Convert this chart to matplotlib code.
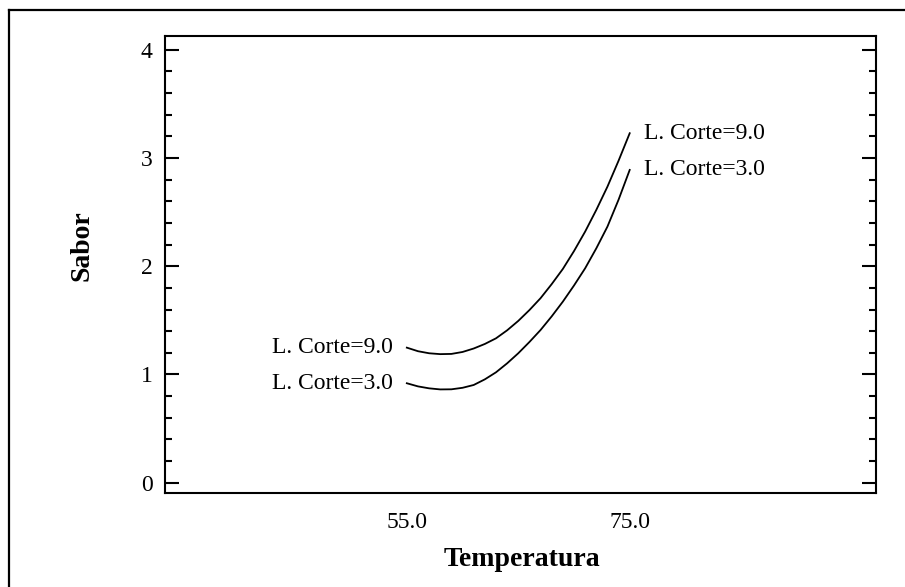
import matplotlib
matplotlib.use("Agg")
import matplotlib.pyplot as plt
from matplotlib.lines import Line2D
from matplotlib.ticker import MultipleLocator, FixedLocator, FormatStrFormatter

plt.rcParams['font.family'] = ['Liberation Serif', 'DejaVu Serif']

# Data
temperatura = [55, 56, 57, 58, 59, 60, 61, 62, 63, 64, 65,
               66, 67, 68, 69, 70, 71, 72, 73, 74, 75]
sabor_corte9 = [1.248, 1.215, 1.196, 1.188, 1.190, 1.208, 1.240, 1.282, 1.334, 1.408, 1.495,
                1.595, 1.705, 1.835, 1.975, 2.140, 2.320, 2.520, 2.735, 2.975, 3.229]
sabor_corte3 = [0.919, 0.890, 0.872, 0.862, 0.863, 0.877, 0.903, 0.955, 1.020, 1.103, 1.196,
                1.300, 1.411, 1.537, 1.673, 1.822, 1.981, 2.165, 2.366, 2.615, 2.890]
label_corte9 = "L. Corte=9.0"
label_corte3 = "L. Corte=3.0"
x_ticks = [55.0, 75.0]
y_ticks = [0, 1, 2, 3, 4]

W, H = 905, 587
fig = plt.figure(figsize=(W / 100, H / 100), dpi=100)
ax = fig.add_axes([165 / W, 1 - 493 / H, (876 - 165) / W, (493 - 35.7) / H])

for ys in (sabor_corte9, sabor_corte3):
    ax.plot(temperatura, ys, color='black', lw=1.3)

ax.set_xlim(33.3, 97.1)
ax.set_ylim(-0.095, 4.13)

# curve labels
for ys, lab in ((sabor_corte9, label_corte9), (sabor_corte3, label_corte3)):
    ax.annotate(lab, xy=(temperatura[0], ys[0]), xytext=(-10, 0), textcoords='offset points',
                ha='right', va='center', fontsize=17)
    ax.annotate(lab, xy=(temperatura[-1], ys[-1]), xytext=(10, 0), textcoords='offset points',
                ha='left', va='center', fontsize=17)

ax.xaxis.set_major_locator(FixedLocator(x_ticks))
ax.xaxis.set_major_formatter(FormatStrFormatter('%.1f'))
ax.yaxis.set_major_locator(FixedLocator(y_ticks))
ax.yaxis.set_minor_locator(MultipleLocator(0.2))

ax.tick_params(axis='x', length=0, pad=14, labelsize=17)
ax.tick_params(axis='y', which='major', direction='in', length=10, width=1.5,
               left=True, right=True, labelsize=17, pad=9)
ax.tick_params(axis='y', which='minor', direction='in', length=5, width=1.5,
               left=True, right=True)

for sp in ax.spines.values():
    sp.set_linewidth(1.5)

ax.set_xlabel("Temperatura", fontsize=20, fontweight='bold')
ax.set_ylabel("Sabor", fontsize=20, fontweight='bold')
ax.xaxis.set_label_coords((522 - 165) / 711, (493 - 547) / 457.3)
ax.yaxis.set_label_coords((94 - 165) / 711, (493 - 246) / 457.3)

# outer frame
fx = 9 / W
fy = 1 - 10 / H
fig.add_artist(Line2D([fx, fx], [0, fy], transform=fig.transFigure, color='black', lw=1.6))
fig.add_artist(Line2D([fx, 1], [fy, fy], transform=fig.transFigure, color='black', lw=1.6))

fig.savefig("out.png", dpi=100)
